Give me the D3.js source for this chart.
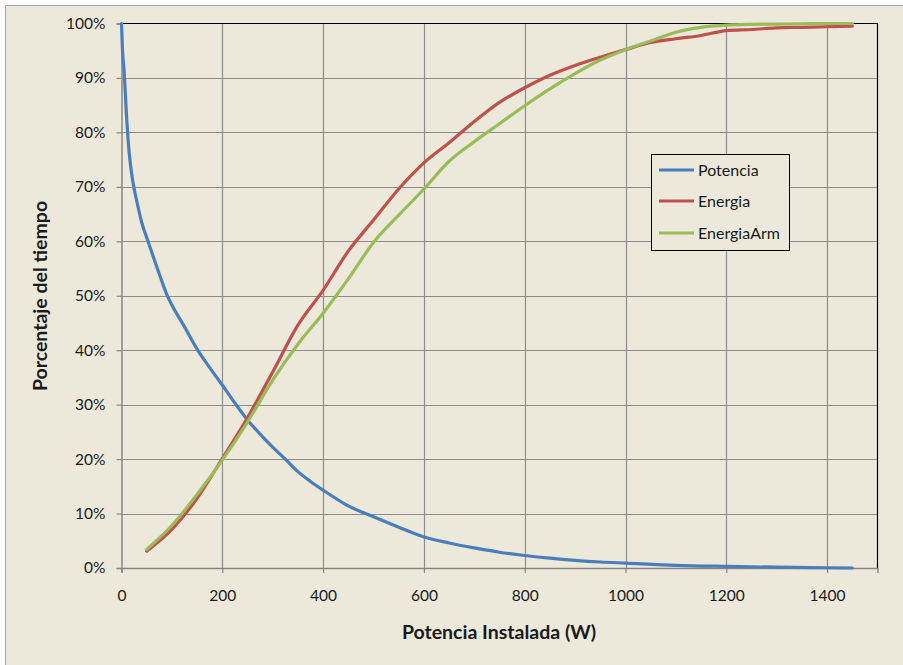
<!DOCTYPE html>
<html>
<head>
<meta charset="utf-8">
<script src="https://cdn.jsdelivr.net/npm/d3@7"></script>
<style>
  html, body { margin: 0; padding: 0; background: #ffffff; }
  svg { display: block; }
  text { font-family: Lato, "Open Sans", sans-serif; fill: #1a1a1a; }
</style>
</head>
<body>
<script>
// ---- data ----
const seriesNames = ["Potencia", "Energia", "EnergiaArm"];
const seriesColors = ["#4A7EBB", "#C0504D", "#9BBB59"];

const potenciaX = [0, 2, 5, 10, 15, 20, 25, 30, 40, 50, 60, 75, 90, 100, 125, 150, 175, 200, 225, 250, 275, 300, 325, 350, 375, 400, 450, 500, 550, 600, 650, 700, 750, 800, 850, 900, 950, 1000, 1100, 1200, 1300, 1400, 1450];
const potenciaY = [100, 95, 91.5, 83, 76.5, 72.5, 69.7, 67.5, 63.5, 60.7, 58, 54, 50.2, 48.3, 44.3, 40.2, 36.8, 33.6, 30.3, 27.2, 24.6, 22.2, 20, 17.7, 15.9, 14.3, 11.4, 9.4, 7.5, 5.7, 4.6, 3.7, 2.9, 2.3, 1.8, 1.4, 1.1, 0.9, 0.5, 0.3, 0.15, 0.05, 0];

const energiaX = [50, 100, 150, 200, 250, 300, 350, 400, 450, 500, 550, 600, 650, 700, 750, 800, 850, 900, 950, 1000, 1050, 1100, 1150, 1200, 1250, 1300, 1350, 1400, 1450];
const energiaY = [3.1, 7.1, 12.8, 20.1, 27.6, 36, 44.6, 51, 58.2, 63.9, 69.6, 74.4, 78.1, 82.0, 85.5, 88.2, 90.5, 92.3, 93.8, 95.2, 96.5, 97.2, 97.8, 98.7, 98.9, 99.2, 99.3, 99.4, 99.5];
const energiaArmY = [3.4, 7.8, 13.5, 19.8, 26.8, 34.5, 41.1, 46.8, 53.1, 59.8, 64.8, 69.6, 74.7, 78.3, 81.6, 84.9, 88.0, 90.8, 93.3, 95.2, 96.8, 98.4, 99.3, 99.7, 99.85, 99.9, 99.95, 100, 100];

const xTicks = [0, 200, 400, 600, 800, 1000, 1200, 1400];
const yTicks = [0, 10, 20, 30, 40, 50, 60, 70, 80, 90, 100];
const xTitle = "Potencia Instalada (W)";
const yTitle = "Porcentaje del tiempo";

// ---- layout ----
const W = 903, H = 665;
const plot = { left: 121.5, top: 23.5, right: 877.5, bottom: 568 };

const svg = d3.select("body").append("svg").attr("width", W).attr("height", H);

// chart background + outer border
svg.append("rect").attr("x", 5.5).attr("y", 5.5).attr("width", W).attr("height", H)
  .attr("fill", "#ECE9DA").attr("stroke", "#A6A6A6").attr("stroke-width", 1);

const x = d3.scaleLinear().domain([0, 1500]).range([plot.left, plot.right]);
const y = d3.scaleLinear().domain([0, 100]).range([plot.bottom, plot.top]);

// grid lines
const grid = svg.append("g");
grid.selectAll("line.h").data(yTicks.filter(d => d > 0 && d < 100)).join("line")
  .attr("x1", plot.left).attr("x2", plot.right)
  .attr("y1", d => Math.round(y(d)) + 0.5).attr("y2", d => Math.round(y(d)) + 0.5)
  .attr("stroke", "#8C8C8C").attr("stroke-width", 1.2);
grid.selectAll("line.v").data(xTicks.filter(d => d > 0)).join("line")
  .attr("y1", plot.top).attr("y2", plot.bottom)
  .attr("x1", d => Math.round(x(d)) + 0.5).attr("x2", d => Math.round(x(d)) + 0.5)
  .attr("stroke", "#8C8C8C").attr("stroke-width", 1.2);

// top & right plot border (black)
svg.append("path")
  .attr("d", `M${plot.left},${plot.top}H${plot.right}V${plot.bottom}`)
  .attr("fill", "none").attr("stroke", "#000").attr("stroke-width", 1.2);

// axes
const yAxis = d3.axisLeft(y).tickValues(yTicks).tickFormat(d => d + "%").tickSize(5).tickPadding(11);
const xAxis = d3.axisBottom(x).tickValues(xTicks).tickFormat(d3.format("d")).tickSize(5).tickPadding(17);

const gy = svg.append("g").attr("transform", `translate(${plot.left},0)`).call(yAxis);
const gx = svg.append("g").attr("transform", `translate(0,${plot.bottom})`).call(xAxis);
[gx, gy].forEach(g => {
  g.select(".domain").attr("stroke", "#868686").attr("stroke-width", 1.5);
  g.selectAll(".tick line").attr("stroke", "#868686").attr("stroke-width", 1.2);
  g.selectAll(".tick text").attr("font-family", "Lato, sans-serif").attr("font-size", 15.5).attr("fill", "#1a1a1a");
});

// series
const line = d3.line().x(d => x(d[0])).y(d => y(d[1])).curve(d3.curveMonotoneX);
const seriesData = [
  d3.zip(potenciaX, potenciaY),
  d3.zip(energiaX, energiaY),
  d3.zip(energiaX, energiaArmY)
];
svg.append("g").selectAll("path").data(seriesData).join("path")
  .attr("d", line)
  .attr("fill", "none")
  .attr("stroke", (d, i) => seriesColors[i])
  .attr("stroke-width", 3.2)
  .attr("stroke-linejoin", "round")
  .attr("stroke-linecap", "round");

// axis titles
svg.append("text").attr("x", 499).attr("y", 639).attr("text-anchor", "middle")
  .attr("font-weight", "bold").attr("font-size", 19.5).text(xTitle);
svg.append("text").attr("transform", "translate(47,296) rotate(-90)").attr("text-anchor", "middle")
  .attr("font-weight", "bold").attr("font-size", 19.5).text(yTitle);

// legend
const lg = svg.append("g");
lg.append("rect").attr("x", 651.5).attr("y", 154.5).attr("width", 138).attr("height", 96)
  .attr("fill", "#ECE9DA").attr("stroke", "#000").attr("stroke-width", 1);
const legendY = [170, 201, 233];
seriesNames.forEach((name, i) => {
  lg.append("line").attr("x1", 659).attr("x2", 694).attr("y1", legendY[i]).attr("y2", legendY[i])
    .attr("stroke", seriesColors[i]).attr("stroke-width", 3);
  lg.append("text").attr("x", 698).attr("y", legendY[i] + 5.5).attr("font-size", 16).text(name);
});
</script>
</body>
</html>
